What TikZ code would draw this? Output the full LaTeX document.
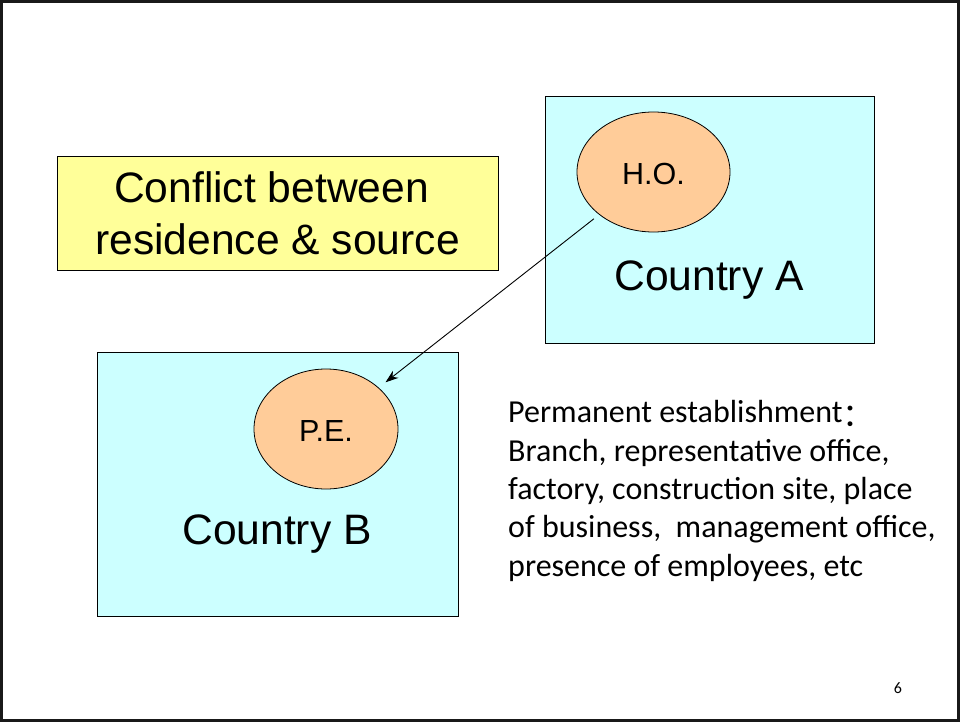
\documentclass[tikz,border=0pt]{standalone}
\usepackage{fontspec}
\setmainfont{Liberation Sans}
\newfontfamily\calfont{Carlito}
\newfontfamily\cjk{Noto Sans CJK SC}
\usetikzlibrary{shapes.geometric,arrows.meta}
\definecolor{cyanfill}{HTML}{CCFFFF}
\definecolor{yelfill}{HTML}{FFFF99}
\definecolor{orgfill}{HTML}{FFCC99}
\begin{document}
\begin{tikzpicture}[x=1pt,y=-1pt,
  country/.style={draw=black,line width=1pt,fill=cyanfill,rectangle,inner sep=0pt,outer sep=0pt},
  office/.style={draw=black,line width=0.8pt,fill=orgfill,ellipse,inner sep=0pt,outer sep=0pt,
     font=\fontsize{30.5}{36}\selectfont,text height=25pt,text depth=0pt},
  big/.style={font=\fontsize{42.6}{52}\selectfont,inner sep=0pt},
  conn/.style={draw=black,line width=0.9pt,-{Stealth[length=13pt,width=9pt]}}]
\useasboundingbox (0,0) rectangle (960,722);
\fill[white] (0,0) rectangle (960,722);
\draw[line width=3pt,black!90] (1.5,1.5) rectangle (958.5,720.5);
% title box
\node[draw=black,line width=1pt,fill=yelfill,minimum width=441pt,minimum height=113pt,
  inner sep=0pt,outer sep=0pt,align=center,font=\fontsize{42.6}{52}\selectfont]
  (title) at (277.5,213.5) {Conflict between\hspace*{0.28em}\\residence \& source};
% country A
\node[country,minimum width=329pt,minimum height=246pt] (ca) at (709.5,220) {};
\node[big,anchor=base] (catext) at (709,290) {Country A};
\node[office,minimum width=153pt,minimum height=120pt] (ho) at (653.5,172) {H.O.};
% country B
\node[country,minimum width=361pt,minimum height=264pt] (cb) at (277.5,484) {};
\node[big,anchor=base] (cbtext) at (277,544) {Country B};
\node[office,minimum width=144pt,minimum height=120pt] (pe) at (326,429) {P.E.};
% arrow
\draw[conn,shorten <=7pt,shorten >=9pt] (ho) -- (pe);
% description
\node[anchor=base west,inner sep=0pt,align=left,font=\calfont\fontsize{32}{38.3}\selectfont]
  (desc) at (508,576) {Permanent establishment\raisebox{-0.12em}{\cjk ：}\\Branch, representative office,\\factory, construction site, place\\of business,\ \ management office,\\presence of employees, etc};
% page number
\node[anchor=base,inner sep=0pt,font=\calfont\fontsize{16}{19}\selectfont] (pg) at (898,693) {6};
\end{tikzpicture}
\end{document}
